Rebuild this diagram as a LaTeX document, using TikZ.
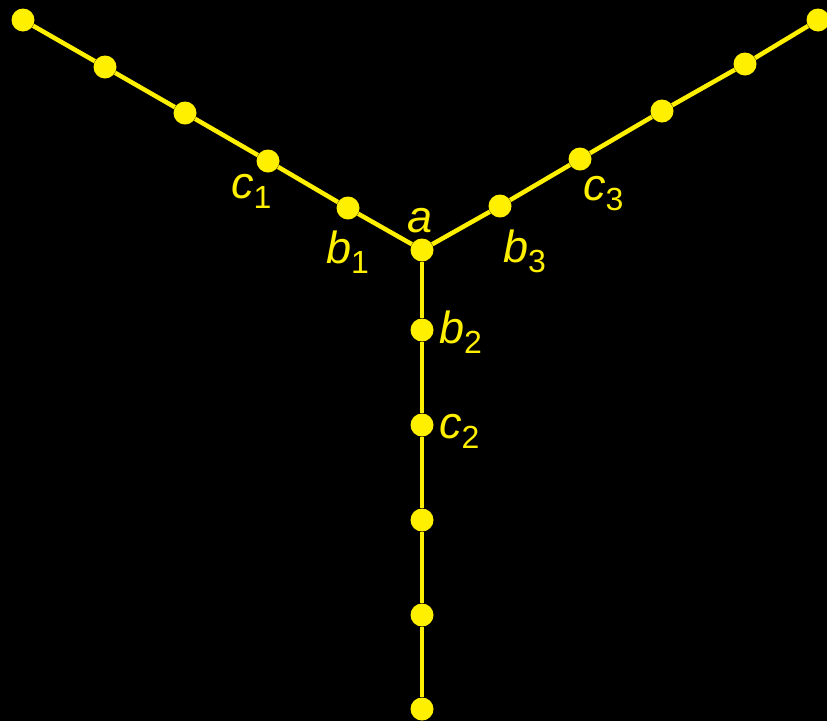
\documentclass[tikz,border=0pt]{standalone}
\usepackage{fontspec}
\setmainfont{Liberation Sans}
\definecolor{yel}{RGB}{255,240,0}
\newcommand{\lbl}[2]{\textit{#1}\raisebox{-10pt}{\fontsize{32}{32}\selectfont #2}}
\begin{document}
\begin{tikzpicture}[x=1pt,y=-1pt,
  dot/.style={circle,fill=yel,inner sep=0pt,minimum size=23pt},
  edge/.style={draw=yel,line width=4.5pt},
  lab/.style={text=yel,anchor=base west,inner sep=0pt,font=\fontsize{45}{45}\selectfont}]
\fill[black] (0,0) rectangle (827,721);
\useasboundingbox (0,0) rectangle (827,721);
% dots
\node[dot] (A) at (422,250) {};
\node[dot] (L1) at (348,208) {};
\node[dot] (L2) at (268,161) {};
\node[dot] (L3) at (185,113) {};
\node[dot] (L4) at (105,67) {};
\node[dot] (L5) at (23,20) {};
\node[dot] (R1) at (500,206) {};
\node[dot] (R2) at (580,159) {};
\node[dot] (R3) at (662,111) {};
\node[dot] (R4) at (745,64) {};
\node[dot] (R5) at (818,20) {};
\node[dot] (D1) at (422,330) {};
\node[dot] (D2) at (422,425) {};
\node[dot] (D3) at (422,520) {};
\node[dot] (D4) at (422,615) {};
\node[dot] (D5) at (422,709) {};
% edges
\draw[edge] (A) -- (L1) -- (L2) -- (L3) -- (L4) -- (L5);
\draw[edge] (A) -- (R1) -- (R2) -- (R3) -- (R4) -- (R5);
\draw[edge] (A) -- (D1) -- (D2) -- (D3) -- (D4) -- (D5);
% labels
\node[lab] (ta) at (407,232) {\textit{a}};
\node[lab] (tc1) at (231,198) {\lbl{c}{1}};
\node[lab] (tb1) at (326,263) {\lbl{b}{1}};
\node[lab] (tb3) at (503,262) {\lbl{b}{3}};
\node[lab] (tc3) at (583,200) {\lbl{c}{3}};
\node[lab] (tb2) at (439,343) {\lbl{b}{2}};
\node[lab] (tc2) at (439,438) {\lbl{c}{2}};
\end{tikzpicture}
\end{document}
